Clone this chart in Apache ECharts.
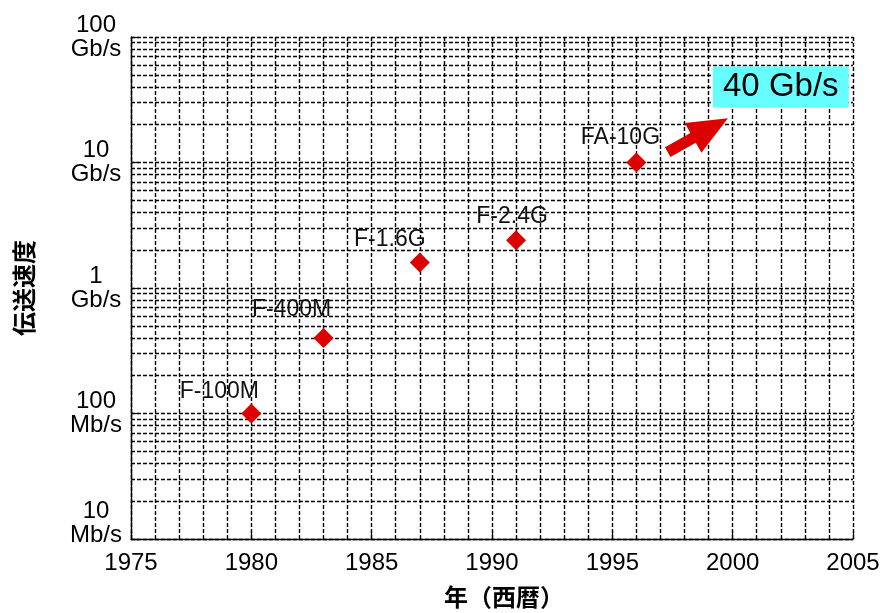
<!DOCTYPE html>
<html>
<head>
<meta charset="utf-8">
<script src="https://cdn.jsdelivr.net/npm/echarts@6/dist/echarts.min.js"></script>
<style>
  html, body { margin: 0; padding: 0; background: #fff; }
  #chart { width: 883px; height: 613px; }
</style>
</head>
<body>
<div id="chart"></div>
<script>
// Optical transmission systems: introduction year and line rate (Gb/s)
const systemNames = ['F-100M', 'F-400M', 'F-1.6G', 'F-2.4G', 'FA-10G'];
const systemYears = [1980, 1983, 1987, 1991, 1996];
const systemRates = [0.1, 0.4, 1.6, 2.4, 10];

// Y-axis decade labels (10 Mb/s ... 100 Gb/s), as [number, unit]
const yTickLabels = [['10', 'Mb/s'], ['100', 'Mb/s'], ['1', 'Gb/s'], ['10', 'Gb/s'], ['100', 'Gb/s']];

// Target annotation: 40 Gb/s around 2002, with a trend arrow leading to it
const targetLabel = '40 Gb/s';
const targetYear = 2002;
const targetRate = 40;
const arrowFrom = [1997.3, 12.1];
const arrowTo = [1999.08, 18.8];

// label placement relative to each marker (px)
const labelShift = [[-32, -22], [-32, -28], [-30, -23], [-4, -24], [-16, -25]];

const FONT = "'Liberation Sans', Arial, Helvetica, sans-serif";
const CJK = "'Noto Sans CJK JP', sans-serif";
const DASH = [4, 2];
const GRID_W = 1.4;

// intermediate log grid lines (2..9 within each decade)
const minorRates = [];
[0.01, 0.1, 1, 10].forEach(function (base) {
  for (let k = 2; k <= 9; k++) minorRates.push(+(base * k).toPrecision(3));
});

const points = systemYears.map(function (yr, i) {
  return {
    value: [yr, systemRates[i]],
    name: systemNames[i],
    label: { offset: labelShift[i] }
  };
});

const chart = echarts.init(document.getElementById('chart'), null, { renderer: 'canvas' });

chart.setOption({
  animation: false,
  backgroundColor: '#ffffff',
  grid: { left: 131, right: 30, top: 37, bottom: 74, containLabel: false, outerBoundsMode: 'none' },
  xAxis: {
    type: 'value',
    min: 1975,
    max: 2005,
    interval: 5,
    name: '年（西暦）',
    nameLocation: 'middle',
    nameGap: 46,
    nameTextStyle: { fontFamily: CJK, fontSize: 24, fontWeight: 'bold', color: '#000', padding: [0, 0, 0, 24] },
    axisLine: { show: true, lineStyle: { color: '#000', width: 1.4 } },
    axisTick: { show: true, inside: true, length: 8, lineStyle: { color: '#000', width: 1.2 } },
    axisLabel: {
      fontFamily: FONT, fontSize: 24, color: '#000', margin: 12,
      formatter: function (v) { return String(v); }
    },
    splitLine: { show: true, lineStyle: { color: '#000', width: GRID_W, type: DASH } },
    minorTick: { show: false, splitNumber: 5 },
    minorSplitLine: { show: true, lineStyle: { color: '#000', width: GRID_W, type: DASH } }
  },
  yAxis: {
    type: 'log',
    logBase: 10,
    min: 0.01,
    max: 100,
    name: '伝送速度',
    nameLocation: 'middle',
    nameRotate: 90,
    nameGap: 95,
    nameTextStyle: { fontFamily: CJK, fontSize: 24, fontWeight: 'bold', color: '#000' },
    axisLine: { show: true, lineStyle: { color: '#000', width: 1.4 } },
    axisTick: { show: true, inside: true, length: 8, lineStyle: { color: '#000', width: 1.2 } },
    axisLabel: {
      fontFamily: FONT, fontSize: 24, lineHeight: 24, color: '#000',
      align: 'center', margin: 35,
      formatter: function (v, idx) {
        const t = yTickLabels[idx];
        if (!t) return '';
        // the lowest label sits a little above its tick so it clears the year labels
        if (idx === 0) return '{n|' + t[0] + '}\n{n|' + t[1] + '}\n{gap| }';
        return '{n|' + t[0] + '}\n{n|' + t[1] + '}';
      },
      rich: {
        n: { fontFamily: FONT, fontSize: 24, lineHeight: 24, color: '#000', align: 'center' },
        gap: { fontSize: 10, lineHeight: 32 }
      }
    },
    splitLine: { show: true, lineStyle: { color: '#000', width: GRID_W, type: DASH } }
  },
  series: [
    {
      // intermediate horizontal grid lines
      type: 'scatter',
      data: [],
      silent: true,
      z: 1,
      markLine: {
        silent: true,
        symbol: ['none', 'none'],
        label: { show: false },
        animation: false,
        lineStyle: { color: '#000', width: GRID_W, type: DASH },
        data: minorRates.map(function (r) { return { yAxis: r }; })
      }
    },
    {
      // trend arrow and 40 Gb/s target box
      type: 'scatter',
      data: [],
      silent: true,
      z: 4,
      markLine: {
        silent: true,
        symbol: ['none', 'triangle'],
        symbolSize: [34, 40],
        label: { show: false },
        animation: false,
        lineStyle: { color: '#dd0000', width: 11, type: 'solid', cap: 'butt', opacity: 1 },
        itemStyle: { color: '#dd0000' },
        data: [[{ coord: arrowFrom }, { coord: arrowTo }]]
      },
      markPoint: {
        silent: true,
        symbol: 'rect',
        symbolSize: 1,
        itemStyle: { color: 'rgba(0,0,0,0)' },
        label: {
          show: true,
          position: 'inside',
          formatter: targetLabel,
          fontFamily: FONT,
          fontSize: 33,
          color: '#000',
          backgroundColor: '#66ffff',
          width: 136,
          height: 41,
          lineHeight: 41,
          align: 'center',
          verticalAlign: 'middle',
          padding: 0
        },
        data: [{ coord: [targetYear, targetRate] }]
      }
    },
    {
      name: 'systems',
      type: 'scatter',
      z: 5,
      symbol: 'diamond',
      symbolSize: 20,
      itemStyle: { color: '#dd0000', opacity: 1 },
      label: {
        show: true,
        position: 'inside',
        formatter: function (p) { return p.name; },
        fontFamily: FONT,
        fontSize: 23,
        color: '#111'
      },
      data: points
    }
  ]
});
</script>
</body>
</html>
